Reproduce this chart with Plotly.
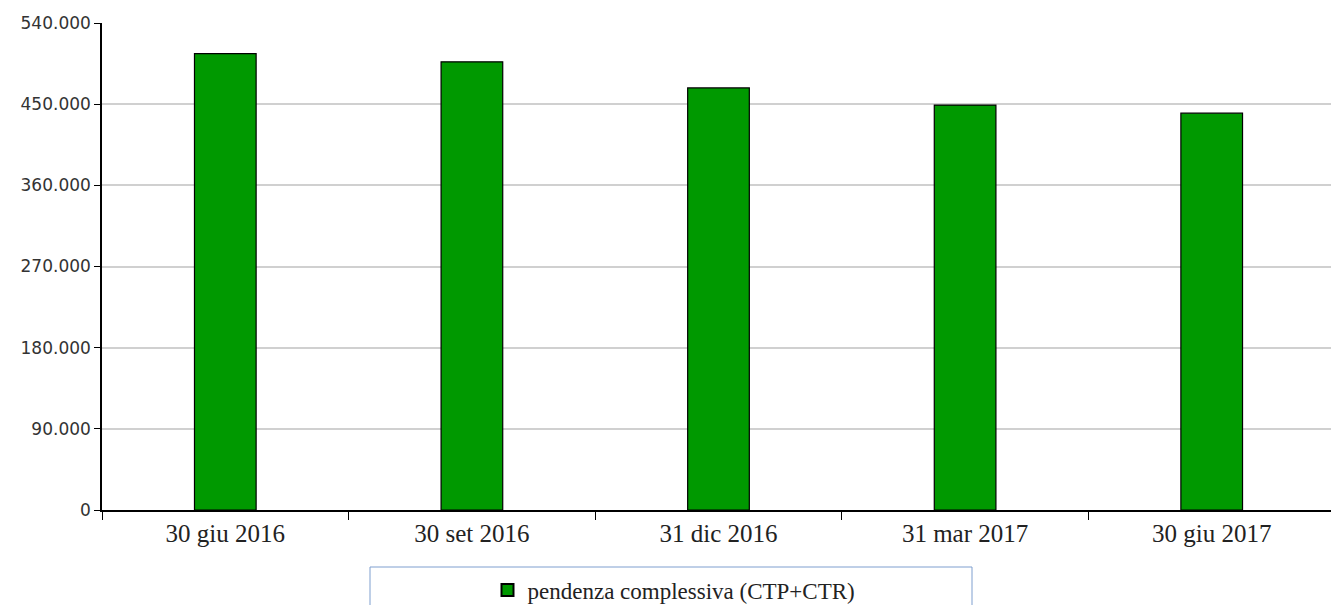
import plotly.graph_objects as go

categories = ["30 giu 2016", "30 set 2016", "31 dic 2016", "31 mar 2017", "30 giu 2017"]
values = [506000, 497000, 468000, 449000, 440000]
series_name = "pendenza complessiva (CTP+CTR)"
y_ticks = [0, 90000, 180000, 270000, 360000, 450000, 540000]

# page body has an 8px margin; work in reference pixel coordinates minus offset
OFF = 8
W, H = 1331, 597
L = 102 - OFF
T = 23 - OFF
R = W - (1335 - OFF)
B = H - (510 - OFF)
pw = W - L - R
ph = H - T - B


def px_x(x):
    return (x - OFF - L) / pw


def px_y(y):
    return (H - B - (y - OFF)) / ph


def cont_y(y):
    return 1 - (y - OFF) / H


fig = go.Figure()
fig.add_trace(go.Bar(
    x=categories, y=values, name=series_name,
    marker=dict(color="#009900", line=dict(color="#000000", width=1.2)),
    width=0.25, showlegend=True,
))

fig.update_layout(
    template="none",
    width=W, height=H,
    margin=dict(l=L, r=R, t=T, b=B, pad=0),
    plot_bgcolor="white", paper_bgcolor="white",
    separators=",.",
    showlegend=True,
    legend=dict(
        orientation="h", x=px_x(674), xanchor="center",
        yref="container", y=cont_y(590), yanchor="middle",
        font=dict(family="Liberation Serif", size=23, color="#222222"),
        bgcolor="rgba(0,0,0,0)", itemsizing="constant", borderwidth=0,
    ),
    xaxis=dict(
        type="category", showline=True, linecolor="#000000", linewidth=1.5,
        ticks="outside", tickson="boundaries", ticklen=8, tickcolor="#000000",
        tickfont=dict(family="Liberation Serif", size=25, color="#222222"),
        showgrid=False, zeroline=False, automargin=False,
    ),
    yaxis=dict(
        range=[0, 540000], tickvals=y_ticks, tickformat=",d",
        showline=True, linecolor="#000000", linewidth=1.5,
        ticks="outside", ticklen=6, tickcolor="#000000",
        tickfont=dict(family="DejaVu Sans", size=17, color="#333333"),
        showgrid=True, gridcolor="#d0d0d0", gridwidth=1.5, zeroline=False,
        automargin=False,
    ),
    shapes=[
        dict(type="line", xref="paper", yref="paper", x0=1, x1=1, y0=0, y1=1,
             line=dict(color="#d0d0d0", width=2)),
        dict(type="rect", xref="paper", yref="paper",
             x0=px_x(370), x1=px_x(972),
             y0=px_y(567), y1=px_y(620),
             line=dict(color="#7f9fcf", width=1)),
    ],
)

fig.write_html("out.html")
